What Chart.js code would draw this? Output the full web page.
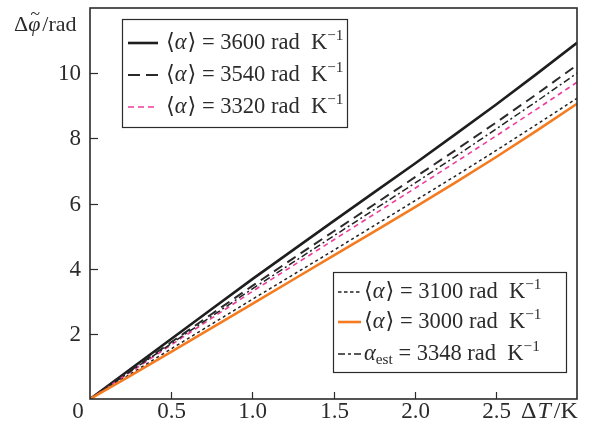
<!DOCTYPE html>
<html>
<head>
<meta charset="utf-8">
<script src="https://cdn.jsdelivr.net/npm/chart.js@4"></script>
<style>
  html, body { margin: 0; padding: 0; background: #fff; }
  canvas { display: block; }
</style>
</head>
<body>
<canvas id="chart" width="590" height="432"></canvas>
<script>
// --- DATA ---
const deltaT = [0, 0.25, 0.5, 0.75, 1.0, 1.25, 1.5, 1.75, 2.0, 2.25, 2.5, 2.75, 3.0];

const phi3600 = [0, 0.92, 1.84, 2.76, 3.68, 4.57, 5.46, 6.34, 7.22, 8.12, 9.03, 9.97, 10.93];
const phi3540 = [0, 0.87, 1.74, 2.61, 3.47, 4.31, 5.14, 5.97, 6.80, 7.63, 8.48, 9.35, 10.25];
const phi3320 = [0, 0.83, 1.66, 2.48, 3.30, 4.09, 4.88, 5.67, 6.46, 7.26, 8.07, 8.89, 9.72];
const phi3100 = [0, 0.77, 1.54, 2.30, 3.06, 3.81, 4.56, 5.32, 6.08, 6.84, 7.62, 8.42, 9.23];
const phi3000 = [0, 0.72, 1.45, 2.18, 2.92, 3.66, 4.40, 5.14, 5.88, 6.64, 7.42, 8.23, 9.06];
const phiEst  = [0, 0.85, 1.70, 2.54, 3.38, 4.19, 5.00, 5.81, 6.62, 7.44, 8.28, 9.13, 10.00];

const alphaValues = ['3600', '3540', '3320', '3100', '3000', '3348'];

const xTicks = [0.5, 1.0, 1.5, 2.0, 2.5];
const yTicks = [2, 4, 6, 8, 10];

const FONT = '"Liberation Serif", "DejaVu Serif", serif';
const INK = '#2b2b2b';

const toPoints = (ys) => ys.map((y, i) => ({ x: deltaT[i], y }));

const styles = {
  s3600: { color: '#1e1e1e', width: 2.6, dash: [], key: [] },
  s3540: { color: '#2a2a2a', width: 2.0, dash: [10, 6], key: [12, 6] },
  s3320: { color: '#ee3c9b', width: 1.6, dash: [5, 4], key: [6, 4] },
  s3100: { color: '#222222', width: 1.5, dash: [3, 3], key: [3.5, 2.5] },
  s3000: { color: '#f47b20', width: 2.6, dash: [], key: [] },
  sEst:  { color: '#222222', width: 1.5, dash: [7, 3, 2, 3], key: [7, 3, 3, 3] }
};

function ds(data, st) {
  return {
    data: toPoints(data),
    borderColor: st.color,
    borderWidth: st.width,
    borderDash: st.dash,
    pointRadius: 0,
    tension: 0,
    fill: false
  };
}

// --- text helper: pieces with italic / sup / sub ---
function drawRich(ctx, x, y, parts, size) {
  ctx.textBaseline = 'middle';
  ctx.textAlign = 'left';
  parts.forEach(p => {
    let fs = size, dy = 0;
    if (p.sup) { fs = size * 0.68; dy = -size * 0.33; }
    if (p.sub) { fs = size * 0.68; dy = size * 0.28; }
    ctx.font = (p.it ? 'italic ' : '') + fs + 'px ' + FONT;
    ctx.fillText(p.t, x, y + dy);
    const w = ctx.measureText(p.t).width;
    if (p.tilde) {
      ctx.font = (size * 0.8) + 'px ' + FONT;
      ctx.textAlign = 'center';
      ctx.fillText('~', x + w * 0.58, y - size * 0.47);
      ctx.textAlign = 'left';
    }
    x += w + (p.gap || 0);
  });
  return x;
}

function alphaLabel(v) {
  return [{ t: '\u27E8' }, { t: '\u03B1', it: true, gap: 1 }, { t: '\u27E9 = ' + v + ' rad\u2002K' }, { t: '\u22121', sup: true }];
}
function estLabel(v) {
  return [{ t: '\u03B1', it: true }, { t: 'est', sub: true }, { t: ' = ' + v + ' rad\u2002K' }, { t: '\u22121', sup: true }];
}

function drawLegend(ctx, box, rows) {
  ctx.save();
  ctx.fillStyle = '#fff';
  ctx.fillRect(box.x, box.y, box.w, box.h);
  ctx.strokeStyle = INK;
  ctx.lineWidth = 1.2;
  ctx.setLineDash([]);
  ctx.strokeRect(box.x + 0.5, box.y + 0.5, box.w, box.h);
  rows.forEach(r => {
    ctx.beginPath();
    ctx.strokeStyle = r.st.color;
    ctx.lineWidth = r.st.width;
    ctx.setLineDash(r.st.key);
    ctx.moveTo(box.x + box.lx, r.y);
    ctx.lineTo(box.x + box.lx + box.lw, r.y);
    ctx.stroke();
    ctx.setLineDash([]);
    ctx.fillStyle = INK;
    drawRich(ctx, box.x + box.tx, r.y, r.parts, 22.5);
  });
  ctx.restore();
}

const decor = {
  id: 'decor',
  afterDraw(chart) {
    const ctx = chart.ctx;
    const a = chart.chartArea;
    const xs = chart.scales.x, ys = chart.scales.y;
    ctx.save();
    // frame
    ctx.strokeStyle = INK;
    ctx.lineWidth = 1.6;
    ctx.strokeRect(a.left, a.top, a.right - a.left, a.bottom - a.top);
    // ticks (inward) + labels
    ctx.lineWidth = 1.2;
    ctx.fillStyle = INK;
    ctx.font = '23px ' + FONT;
    ctx.textAlign = 'center';
    ctx.textBaseline = 'middle';
    xTicks.forEach(v => {
      const px = Math.round(xs.getPixelForValue(v)) + 0.5;
      ctx.beginPath();
      ctx.moveTo(px, a.bottom);
      ctx.lineTo(px, a.bottom - 7);
      ctx.stroke();
      ctx.fillText(v.toFixed(1), px, a.bottom + 13);
    });
    ctx.textAlign = 'right';
    yTicks.forEach(v => {
      const py = Math.round(ys.getPixelForValue(v)) + 0.5;
      ctx.beginPath();
      ctx.moveTo(a.left, py);
      ctx.lineTo(a.left + 8, py);
      ctx.stroke();
      ctx.fillText(String(v), a.left - 9, py);
    });
    ctx.textAlign = 'center';
    ctx.fillText('0', a.left - 12, a.bottom + 13);
    // axis titles
    drawRich(ctx, 521, a.bottom + 13, [{ t: '\u0394', gap: 1 }, { t: 'T', it: true, gap: 3 }, { t: '/K' }], 24);
    drawRich(ctx, 14, 25, [{ t: '\u0394' }, { t: '\u03C6', it: true, tilde: true, gap: 2 }, { t: '/rad' }], 22);
    ctx.restore();

    drawLegend(ctx, { x: 122, y: 19, w: 225, h: 108, lx: 6, lw: 30, tx: 44 }, [
      { y: 43, st: styles.s3600, parts: alphaLabel(alphaValues[0]) },
      { y: 75, st: styles.s3540, parts: alphaLabel(alphaValues[1]) },
      { y: 107, st: styles.s3320, parts: alphaLabel(alphaValues[2]) }
    ]);
    drawLegend(ctx, { x: 333, y: 272, w: 233, h: 100, lx: 5, lw: 23, tx: 31 }, [
      { y: 292, st: styles.s3100, parts: alphaLabel(alphaValues[3]) },
      { y: 322, st: styles.s3000, parts: alphaLabel(alphaValues[4]) },
      { y: 354, st: styles.sEst, parts: estLabel(alphaValues[5]) }
    ]);
  }
};

new Chart(document.getElementById('chart'), {
  type: 'line',
  data: {
    datasets: [
      ds(phi3000, styles.s3000),
      ds(phi3100, styles.s3100),
      ds(phiEst, styles.sEst),
      ds(phi3320, styles.s3320),
      ds(phi3540, styles.s3540),
      ds(phi3600, styles.s3600)
    ]
  },
  options: {
    responsive: false,
    animation: false,
    layout: { padding: { left: 90, right: 13, top: 8, bottom: 33 } },
    plugins: { legend: { display: false }, tooltip: { enabled: false } },
    scales: {
      x: { type: 'linear', display: false, min: 0, max: 3 },
      y: { type: 'linear', display: false, min: 0, max: 12 }
    }
  },
  plugins: [decor]
});
</script>
</body>
</html>
